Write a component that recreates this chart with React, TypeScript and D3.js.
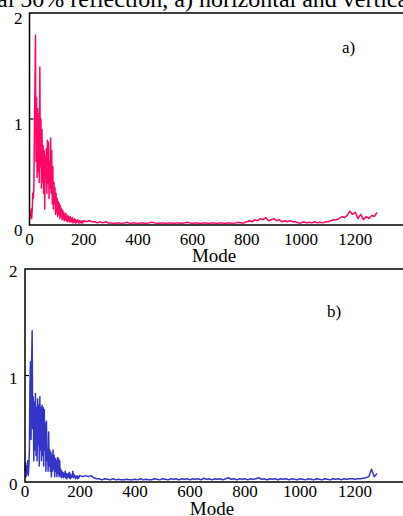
import React from "react";
import * as d3 from "d3";

// Mode index grids (dense near the start, coarse in the flat tail)
const modesNear: number[] = d3.range(0, 200, 2);
const modesFar: number[] = d3.range(200, 1290, 10);

// a) pink series
const pinkNear: number[] = [
  0.05, 0.12, 0.08, 0.15, 0.06, 0.14, 0.3, 0.25, 0.35, 0.9,
  1.3, 1.79, 0.6, 1.2, 0.45, 1.1, 0.5, 1.05, 0.4, 1.49,
  0.55, 1.0, 0.35, 0.9, 0.4, 0.75, 0.3, 0.7, 0.15, 0.65,
  0.45, 0.72, 0.3, 0.8, 0.4, 0.78, 0.25, 0.6, 0.35, 0.82,
  0.3, 0.7, 0.2, 0.55, 0.15, 0.4, 0.2, 0.35, 0.1, 0.3,
  0.12, 0.25, 0.08, 0.22, 0.1, 0.2, 0.06, 0.18, 0.08, 0.15,
  0.05, 0.14, 0.06, 0.12, 0.04, 0.1, 0.05, 0.11, 0.04, 0.08,
  0.03, 0.09, 0.04, 0.07, 0.03, 0.08, 0.03, 0.06, 0.03, 0.07,
  0.02, 0.05, 0.03, 0.06, 0.02, 0.05, 0.02, 0.04, 0.03, 0.05,
  0.02, 0.04, 0.02, 0.04, 0.02, 0.03, 0.02, 0.04, 0.02, 0.03,
];
const pinkFar: number[] = [
  0.04, 0.03, 0.04, 0.03, 0.03, 0.02, 0.03, 0.02, 0.03, 0.02,
  0.02, 0.015, 0.02, 0.02, 0.015, 0.02, 0.025, 0.015, 0.02, 0.02,
  0.015, 0.02, 0.02, 0.015, 0.02, 0.025, 0.02, 0.015, 0.02, 0.02,
  0.015, 0.02, 0.02, 0.015, 0.02, 0.02, 0.015, 0.02, 0.025, 0.02,
  0.015, 0.02, 0.02, 0.015, 0.02, 0.02, 0.015, 0.02, 0.02, 0.015,
  0.02, 0.02, 0.015, 0.02, 0.02, 0.015, 0.02, 0.025, 0.02, 0.02,
  0.03, 0.04, 0.03, 0.05, 0.04, 0.06, 0.05, 0.07, 0.04, 0.05,
  0.06, 0.04, 0.05, 0.03, 0.04, 0.03, 0.04, 0.03, 0.03, 0.02,
  0.02, 0.03, 0.02, 0.025, 0.02, 0.03, 0.02, 0.025, 0.02, 0.03,
  0.03, 0.04, 0.05, 0.05, 0.06, 0.08, 0.07, 0.09, 0.13, 0.1,
  0.12, 0.06, 0.1, 0.05, 0.08, 0.06, 0.09, 0.08, 0.12,
];

// b) blue series
const blueNear: number[] = [
  0.1, 0.18, 0.05, 0.15, 0.08, 0.2, 0.06, 0.15, 0.3, 0.9,
  1.13, 0.4, 1.1, 1.42, 0.5, 0.8, 0.2, 0.75, 0.3, 0.83,
  0.25, 0.7, 0.2, 0.78, 0.35, 0.72, 0.15, 0.8, 0.3, 0.7,
  0.2, 0.72, 0.25, 0.7, 0.15, 0.68, 0.3, 0.55, 0.1, 0.57,
  0.2, 0.3, 0.1, 0.47, 0.15, 0.3, 0.1, 0.28, 0.05, 0.25,
  0.1, 0.3, 0.12, 0.25, 0.05, 0.22, 0.1, 0.2, 0.05, 0.23,
  0.08, 0.22, 0.05, 0.2, 0.06, 0.12, 0.04, 0.1, 0.05, 0.09,
  0.04, 0.08, 0.05, 0.1, 0.04, 0.08, 0.03, 0.07, 0.05, 0.08,
  0.04, 0.09, 0.03, 0.07, 0.04, 0.06, 0.05, 0.1, 0.04, 0.07,
  0.05, 0.06, 0.03, 0.05, 0.04, 0.06, 0.03, 0.05, 0.04, 0.06,
];
const blueFar: number[] = [
  0.06, 0.05, 0.06, 0.05, 0.06, 0.04, 0.03, 0.03, 0.02, 0.03,
  0.025, 0.02, 0.03, 0.02, 0.025, 0.02, 0.02, 0.025, 0.02, 0.02,
  0.025, 0.02, 0.03, 0.02, 0.025, 0.02, 0.02, 0.03, 0.025, 0.02,
  0.03, 0.025, 0.02, 0.03, 0.025, 0.03, 0.02, 0.03, 0.025, 0.03,
  0.02, 0.03, 0.025, 0.03, 0.02, 0.035, 0.025, 0.03, 0.02, 0.03,
  0.025, 0.03, 0.02, 0.03, 0.04, 0.025, 0.03, 0.02, 0.03, 0.025,
  0.03, 0.02, 0.03, 0.025, 0.03, 0.04, 0.025, 0.03, 0.02, 0.03,
  0.025, 0.03, 0.02, 0.03, 0.025, 0.03, 0.02, 0.03, 0.025, 0.02,
  0.03, 0.025, 0.02, 0.03, 0.025, 0.02, 0.03, 0.025, 0.02, 0.03,
  0.025, 0.02, 0.03, 0.025, 0.03, 0.02, 0.03, 0.025, 0.03, 0.03,
  0.025, 0.03, 0.03, 0.035, 0.04, 0.05, 0.12, 0.05, 0.08,
];

const xTicks: number[] = [0, 200, 400, 600, 800, 1000, 1200];
const yTicks: number[] = [0, 1, 2];

const FONT = "'Liberation Serif', 'DejaVu Serif', serif";

type PanelProps = {
  x0: number;
  pxPerMode: number;
  yTop: number;
  yBottom: number;
  values: number[];
  color: string;
  label: string;
  labelX: number;
  labelY: number;
  yLabelRight: number;
  yLabelOffset: number;
  xLabelBaseline: number;
  modeBaseline: number;
};

function Panel(p: PanelProps) {
  const modes = modesNear.concat(modesFar);
  const x = d3.scaleLinear().domain([0, 1400]).range([p.x0, p.x0 + 1400 * p.pxPerMode]);
  const y = d3.scaleLinear().domain([0, 2]).range([p.yBottom, p.yTop]);
  const line = d3
    .line<number>()
    .x((_, i) => x(modes[i]))
    .y((d) => y(d));
  const right = x(1400);
  return (
    <g>
      <path d={line(p.values) || ""} fill="none" stroke={p.color} strokeWidth={1.5} strokeLinejoin="round" />
      <rect x={x(0)} y={y(2)} width={right - x(0)} height={y(0) - y(2)} fill="none" stroke="#000" strokeWidth={1.5} />
      <line x1={x(0)} x2={x(0) + 4} y1={y(1)} y2={y(1)} stroke="#000" strokeWidth={1.2} />
      {yTicks.map((t) => (
        <text key={"y" + t} x={p.yLabelRight} y={y(t) + p.yLabelOffset} textAnchor="end" fontFamily={FONT} fontSize={17}>
          {t}
        </text>
      ))}
      {xTicks.map((t) => (
        <text key={"x" + t} x={x(t)} y={p.xLabelBaseline} textAnchor="middle" fontFamily={FONT} fontSize={17}>
          {t}
        </text>
      ))}
      <text x={x(680)} y={p.modeBaseline} textAnchor="middle" fontFamily={FONT} fontSize={19}>
        Mode
      </text>
      <text x={p.labelX} y={p.labelY} fontFamily={FONT} fontSize={17}>
        {p.label}
      </text>
    </g>
  );
}

export default function App() {
  return (
    <svg
      width={403}
      height={516}
      viewBox="0 0 403 516"
      style={{ position: "absolute", left: 0, top: 0, background: "#fff" }}
    >
      <rect x={0} y={0} width={403} height={516} fill="#fff" />
      <text x={-3} y={6.5} fontFamily={FONT} fontSize={24}>
        al 50% reflection, a) horizontal and vertical
      </text>
      <Panel
        x0={29.5}
        pxPerMode={0.2715}
        yTop={13}
        yBottom={225}
        values={pinkNear.concat(pinkFar)}
        color="#ff0766"
        label="a)"
        labelX={342}
        labelY={53}
        yLabelRight={22.5}
        yLabelOffset={11}
        xLabelBaseline={245}
        modeBaseline={262}
      />
      <Panel
        x0={25}
        pxPerMode={0.275}
        yTop={269}
        yBottom={482}
        values={blueNear.concat(blueFar)}
        color="#3434c8"
        label="b)"
        labelX={327}
        labelY={317}
        yLabelRight={17.5}
        yLabelOffset={8}
        xLabelBaseline={497}
        modeBaseline={515}
      />
    </svg>
  );
}
